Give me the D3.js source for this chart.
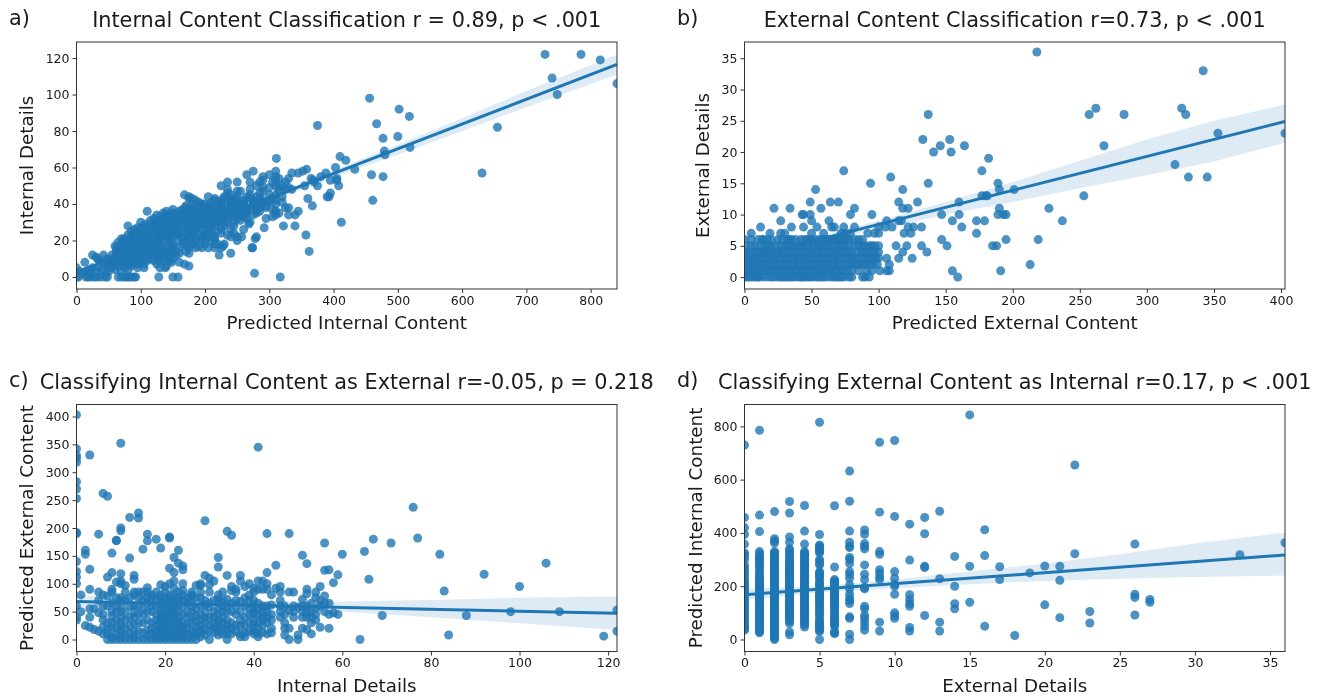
<!DOCTYPE html>
<html>
<head>
<meta charset="utf-8">
<script src="https://cdn.jsdelivr.net/npm/d3@7/dist/d3.min.js"></script>
<style>
html,body{margin:0;padding:0;background:#fff;}
text{font-family:"DejaVu Sans",sans-serif;fill:#1a1a1a;}
svg{display:block;filter:blur(0.35px);}
</style>
</head>
<body>
<svg id="chart" width="1327" height="697"></svg>
<script>
// Panel a: [Internal Details, [Predicted Internal Content ...]]
const rowsA = [
[122,[729,785]],[119,[815]],[109,[740]],[106,[841]],[100,[748]],[98,[456]],[92,[502]],[88,[518]],[84,[467]],[83,[375]],[82,[655]],
[77,[500]],[76,[477]],[71,[519]],[69,[479]],[67,[480]],[66,[410]],[65,[311]],[64,[419]],[60,[403]],[59,[358,433]],[58,[275,310,352]],
[57,[335,345,388,631]],[56,[265,300,459]],[55,[290,310,380,477]],[54,[315,330,365,405]],[53,[290,310,368,395,405]],[52,[235,250,270,285,305,325,370]],
[50,[225,280,310,320,355,375,408]],[49,[290,300,315,330]],[48,[235,270,325,335]],[47,[250,255,290,315]],[46,[235,285,395]],[45,[168,240,270,300,310]],
[44,[175,205,230,250,265,280,320,390,393]],[43,[175,180,215,230,245,270,285,305,360]],[42,[185,215,225,240,250,260,275,290,300,310,461]],[41,[190,210,225,240,260,275,290,300,320]],
[40,[180,195,200,225,240,250,260,275,290,310]],[39,[170,190,205,220,235,245,260,275,285,295,367]],[38,[170,180,190,200,210,220,240,255,270,285,295,325,330]],[37,[150,165,175,190,200,210,225,235,250,265,280,305]],
[36,[110,140,160,180,200,215,230,240,250,265,285,310,345]],[35,[135,150,160,175,185,195,205,215,225,240,255,265,280,315]],[34,[125,140,150,160,170,180,195,205,215,225,240,250,260,275,310,330,340]],
[33,[130,140,150,160,170,180,190,200,210,220,230,245,260,305]],[32,[120,135,145,155,165,175,185,200,210,220,230,250,265,295]],[31,[115,125,135,150,160,170,180,190,205,215,225,235,255]],[30,[100,120,130,145,155,160,170,180,195,205,215,225,235,245,270,412]],
[29,[108,120,135,155,175,190,210,268]],[28,[80,105,115,125,135,145,155,165,180,190,200,215,230,245,322,340]],[27,[95,115,130,150,170,185,205,225,292]],
[26,[90,100,110,120,130,140,150,160,175,185,195,205,225,240,260]],[25,[85,105,125,145,155,180,215]],[24,[90,100,115,125,130,140,150,160,170,180,190,200,210,225,245]],[23,[80,95,110,135,155,175,200,235,357]],
[22,[85,100,110,120,130,140,150,165,175,185,195,205,215,240,250,257,280]],[21,[70,75,90,105,125,145,165,195,215,278]],[20,[72,85,90,100,110,115,125,130,145,160,175,185,200,210,250]],
[19,[65,80,95,110,125,145,170,185]],[18,[70,75,85,95,100,110,120,130,135,150,165,180,200,215,220,230]],[17,[60,75,90,105,125,150,172,190,228]],[16,[62,70,80,88,95,110,120,135,150,160,175,185,195,205,215,225,273,274]],
[15,[65,70,85,100,120,145]],[14,[62,70,75,82,90,100,110,118,125,132,140,155,170,362]],[13,[68,80,95,105,115,130,140,150,160,175,240]],[12,[25,42,55,62,70,78,85,92,100,108,115,125,135,145,155,222]],
[11,[30,60,75,90,105,125,140]],[10,[33,48,58,65,72,80,88,95,102,110,118,130,140,150]],[9,[35,50,60,70,78,85,92,100,110,120,128,135,145]],[8,[13,40,55,75,90,148,160]],[7,[45,52,60,70,80,88,95,105,125,168]],
[6,[50,65,85,140,175]],[5,[0,25,35,55,75,95,105,130,138]],[4,[20,40,60,80]],[3,[5,15,30,50,70]],[2,[0,10,22,45,277]],
[0,[0,3,15,18,22,28,32,38,45,48,65,70,75,78,82,85,90,92,128,150,158,317]]
];
const lineA = [[0,2.5],[841,116.5]];
const bandA = [[0,1,4],[100,14.8,16.6],[200,28.7,30],[300,41.5,44],[400,54.5,58.5],[500,67,72.5],[600,80,87],[700,93,102],[841,111,122]];

// Panel b: [External Details, [Predicted External Content ...]]
const rowsB = [
[36,[218]],[33,[342]],[27,[262,326]],[26,[137,257,283,329]],[23,[353,403]],[22,[133,153]],[21,[146,164,268]],[20,[141,154]],[19,[182]],[18,[321]],
[17,[74,177]],[16,[109,331,345]],[15,[94,137,189]],[14,[53,118,190,201]],[13,[177,180,181,253]],[12,[49,64,70,115,129,160]],
[11,[22,34,57,82,118,122,190,227]],[10,[43,44,49,79,95,147,160,189,193,195]],[9,[27,50,63,106,115,117,155,173,179,237]],
[8,[12,35,44,54,65,67,74,82,100,105,110,122,126,132,162]],[7,[5,19,27,30,50,59,72,75,79,92,97,100,119,124,173]],
[6,[0,5,10,13,14,17,20,25,28,32,33,35,38,42,45,47,49,52,55,58,60,62,64,66,68,70,72,74,76,78,82,85,88,147,195,219]],
[5,[1,5,8,12,15,17,20,23,27,30,33,36,39,42,44,47,50,52,55,57,60,62,65,68,70,72,75,78,82,85,88,90,93,95,97,100,113,121,132,151,185,188]],
[4,[0,2,5,8,10,13,15,18,20,23,25,28,30,33,35,38,40,43,45,48,50,53,55,58,60,63,65,68,70,73,75,78,80,84,87,90,92,95,97,100,118,136]],
[3,[1,3,6,8,10,12,15,17,20,22,25,27,30,32,35,37,40,42,45,47,50,52,55,57,60,62,65,67,70,72,75,78,80,82,85,88,90,93,95,98,100,106,115,125]],
[2,[0,3,5,7,10,12,15,17,20,22,25,27,30,32,35,37,40,42,45,47,50,52,55,57,60,62,65,67,70,72,75,78,80,83,85,88,90,93,96,99,108,213]],
[1,[0,2,3,5,7,9,12,14,17,19,22,24,27,29,32,34,37,39,42,44,47,49,52,54,57,59,62,64,67,69,72,74,77,80,85,91,95,101,106,108,155,191]],
[0,[0,2,4,6,8,10,11,14,17,20,22,25,27,29,31,33,35,37,40,42,43,45,47,49,51,54,56,58,60,63,66,68,70,72,74,78,80,88,90,93,159]]
];
const lineB = [[0,3],[403,24.9]];
const bandB = [[0,2.4,3.6],[50,5.2,6.2],[100,7.6,9],[150,10,12],[200,12,15.2],[250,14.2,18.6],[300,16.3,22],[350,18.5,25],[403,21.5,27.6]];

// Panel c: [Internal Details, [Predicted External Content ...]]
const colsC = [
[0,[403,342,330,325,318,283,270,253,192,190,140,122,112,100,60,40,35]],[1,[80,50]],[2,[160,153,25]],[3,[331,126,90,55,40,22]],[4,[55,18]],
[5,[189,85,70,48,15]],[6,[262,80,60,45,35,22,10]],[7,[257,112,78,60,30,18,10,0]],[8,[155,120,90,85,65,50,42,30,20,5,0]],[9,[178,177,103,75,60,50,35,20,8,0]],
[10,[352,200,195,118,105,100,75,70,60,50,40,30,22,15,8,0]],[11,[97,85,70,50,35,20,8,0]],[12,[219,146,75,60,40,25,12,0]],[13,[115,108,85,80,60,50,40,28,15,5,0]],[14,[227,218,85,75,60,45,30,15,0]],
[15,[162,85,70,55,45,30,12,0]],[16,[189,177,93,85,75,65,50,35,17,8,0]],[17,[80,75,60,50,30,20,10,0]],[18,[180,85,70,60,45,35,25,15,10,5,0]],[19,[164,98,80,75,65,55,48,40,35,30,25,20,15,10,5,0]],
[20,[95,85,70,65,55,48,42,35,30,25,18,12,5,0]],[21,[184,182,128,100,80,75,70,60,52,45,38,30,22,15,8,0]],[22,[147,120,105,92,80,72,65,58,50,44,38,30,22,15,10,5,0]],[23,[160,137,85,75,68,60,50,40,32,25,18,12,5,0]],
[24,[132,125,100,88,80,70,60,45,30,22,15,8,5,0]],[25,[75,65,50,40,28,20,10,0]],[26,[85,80,78,68,60,50,40,30,15,8,0]],[27,[97,75,55,42,32,22,15,8,0]],[28,[100,97,85,75,60,45,35,25,18,12,5]],[29,[213,115,70,62,48,38,30,18,8]],
[30,[110,98,85,65,58,40,25,15,0]],[31,[105,70,50,40,30,22,12]],[32,[147,130,80,72,65,55,45,35,28,20,15,8]],[33,[85,70,60,50,40,30,18,10]],[34,[194,115,72,60,50,35,25,18,10,0]],[35,[187,95,88,65,50,30,20,10]],
[36,[90,85,70,60,45,25,15]],[37,[115,105,68,50,35,25,10,5]],[38,[95,75,60,40,25,12,5]],[39,[100,80,70,55,45,30,15]],[40,[92,85,70,60,50,45,35,28,20,15,10]],[41,[345,105,90,65,55,45,30,20,10,5]],
[42,[105,90,60,50,40,35,25,13]],[43,[190,120,100,90,60,50,40,30,10]],[44,[80,62,45,35,20,12]],[45,[133,92]],[46,[95,85,70,60,50,40]],[47,[60,45,30,20,8]],[48,[190,85,52,20,0]],[49,[85,60,50,40]],
[50,[58,8,0]],[51,[151,72,60,50,40,20]],[52,[136,90,82,60,50,40,18]],[53,[65,50,40,30,10]],[54,[85,75,55,45,35]],[55,[95,70,60,22]],[56,[173,124,78,65,50]],[57,[125,65,45,20]],
[58,[102,48]],[59,[116,45]],[60,[153]],[64,[0]],[65,[158]],[66,[108]],[67,[180]],[69,[43]],[71,[173]],[76,[237]],[77,[182]],[82,[153]],[83,[87]],
[84,[8]],[88,[43]],[92,[117]],[98,[50]],[100,[95]],[106,[137]],[109,[50]],[119,[6]],[122,[53,15]]
];
const lineC = [[0,68],[122,47]];
const bandC = [[0,58,80],[15,60,74],[30,59,71],[45,56,69],[60,50,68],[80,40,71],[100,29,75],[122,17,77]];

// Panel d: [External Details, [Predicted Internal Content ...]]
const colsD = [
[0,[730,458,420,395,358,325,320,310,300,280,270,260,250,240,230,220,212,205,198,190,182,175,168,160,152,145,138,130,122,115,108,100,92,85,78,70,62,55,50,45,40,35]],
[1,[785,467,405,330,322,315,310,305,300,295,288,280,275,270,258,250,242,235,230,225,220,215,210,205,200,195,190,185,180,175,170,165,160,155,150,145,140,135,130,125,120,115,110,105,100,95,90,85,80,75,70,65,60,55,50,45,40,35,30,25]],
[2,[480,378,370,362,330,326,322,318,314,310,305,300,295,290,285,280,275,270,265,260,255,250,245,240,235,230,225,220,215,210,205,200,195,190,185,180,175,170,165,160,155,150,145,140,135,130,125,120,115,110,105,100,95,90,85,80,75,70,65,60,55,50,45,40,35,30,25,20,15,10,5,0]],
[3,[518,475,385,365,340,335,325,318,310,303,295,290,285,280,275,270,265,260,255,250,245,240,235,230,225,220,215,210,205,200,195,190,185,180,175,170,165,160,155,150,145,140,135,130,125,120,115,110,105,100,95,90,85,80,75,68,60,28,18]],
[4,[503,407,358,330,325,320,315,310,305,300,295,290,285,280,275,270,265,260,255,250,245,240,235,230,225,220,215,210,205,200,195,190,185,180,175,170,165,160,155,150,145,140,135,130,125,120,115,110,105,100,95,90,85,80,75,70,65,60,55,47]],
[5,[815,394,355,350,345,340,335,330,325,300,295,285,280,255,250,245,240,235,225,215,210,205,195,190,185,175,170,165,160,155,150,145,140,135,130,125,115,110,100,95,90,80,70,65,60,55,50,45,40,35,30,0]],
[6,[502,272,225,220,215,210,205,200,195,190,185,180,175,170,165,160,155,150,145,140,135,130,125,120,115,110,100,95,85,80,75,70,65,60,55,50,30,25,22]],
[7,[632,519,407,365,350,345,308,300,285,255,245,230,205,190,170,155,145,135,85,80,20,0]],
[8,[411,395,360,350,340,280,245,225,195,190,125,115,90,80,65,50,35]],
[9,[740,478,330,320,262,250,235,225,65,32]],[10,[747,462,255,230,208,200,170,100,90,80]],[11,[433,298,168,150,135,125,45,32]],
[12,[458,397,275,270,90]],[13,[481,228,65,32]],[14,[312,200,134,115]],[15,[843,275,140]],[16,[412,315,50]],[17,[273,225]],[18,[15]],[19,[250]],
[20,[276,130]],[21,[275,222,82]],[22,[655,322]],[23,[105,62]],[26,[358,170,158,92]],[27,[150,140]],[33,[318]],[36,[363]]
];
const lineD = [[0,168],[36,317]];
const bandD = [[0,148,190],[5,176,200],[10,192,225],[15,207,255],[20,220,285],[25,228,320],[30,235,360],[36,240,402]];

const ticksA = {x:[0,100,200,300,400,500,600,700,800], y:[0,20,40,60,80,100,120]};
const ticksB = {x:[0,50,100,150,200,250,300,350,400], y:[0,5,10,15,20,25,30,35]};
const ticksC = {x:[0,20,40,60,80,100,120], y:[0,50,100,150,200,250,300,350,400]};
const ticksD = {x:[0,5,10,15,20,25,30,35], y:[0,200,400,600,800]};

const titles = ["Internal Content Classification r = 0.89, p < .001","External Content Classification r=0.73, p < .001",
"Classifying Internal Content as External r=-0.05, p = 0.218","Classifying External Content as Internal r=0.17, p < .001"];
const xLabels = ["Predicted Internal Content","Predicted External Content","Internal Details","External Details"];
const yLabels = ["Internal Details","External Details","Predicted External Content","Predicted Internal Content"];
const letters = ["a)","b)","c)","d)"];

const pointsFromRows = g => g.flatMap(([y,xs]) => xs.map(x => [x,y]));
const pointsFromCols = g => g.flatMap(([x,ys]) => ys.map(y => [x,y]));

const panels = [
 {pts:pointsFromRows(rowsA),line:lineA,band:bandA,ticks:ticksA,xd:[0,841],yd:[-6.6,128.8],l:76.5,t:42,lx:9,ty:27,ly:25,ylx:33},
 {pts:pointsFromRows(rowsB),line:lineB,band:bandB,ticks:ticksB,xd:[0,403],yd:[-1.9,37.6],l:744.5,t:42,lx:677,ty:27,ly:25,ylx:709},
 {pts:pointsFromCols(colsC),line:lineC,band:bandC,ticks:ticksC,xd:[0,122],yd:[-21.5,421.5],l:76.5,t:404.5,lx:9,ty:389,ly:387,ylx:33},
 {pts:pointsFromCols(colsD),line:lineD,band:bandD,ticks:ticksD,xd:[0,36],yd:[-45,882],l:744.5,t:404.5,lx:677,ty:389,ly:387,ylx:702}
];

const W = 540.5, H = 247, blue = "#1f77b4";
const svg = d3.select("#chart");

panels.forEach((p,i) => {
  const g = svg.append("g").attr("transform",`translate(${p.l},${p.t})`);
  const x = d3.scaleLinear().domain(p.xd).range([0,W]);
  const y = d3.scaleLinear().domain(p.yd).range([H,0]);
  const clipId = "clip"+i;
  g.append("clipPath").attr("id",clipId).append("rect").attr("width",W).attr("height",H);
  const body = g.append("g").attr("clip-path",`url(#${clipId})`);
  body.selectAll("circle").data(p.pts).join("circle")
    .attr("cx",d=>x(d[0])).attr("cy",d=>y(d[1])).attr("r",4.5)
    .attr("fill",blue).attr("fill-opacity",0.8);
  body.append("path").datum(p.band)
    .attr("d",d3.area().x(d=>x(d[0])).y0(d=>y(d[1])).y1(d=>y(d[2])))
    .attr("fill",blue).attr("fill-opacity",0.15);
  body.append("path").datum(p.line)
    .attr("d",d3.line().x(d=>x(d[0])).y(d=>y(d[1])))
    .attr("fill","none").attr("stroke",blue).attr("stroke-width",3);

  const ax = g.append("g").attr("transform",`translate(0,${H})`)
    .call(d3.axisBottom(x).tickValues(p.ticks.x).tickFormat(d3.format("d")).tickSize(4).tickPadding(3));
  const ay = g.append("g")
    .call(d3.axisLeft(y).tickValues(p.ticks.y).tickFormat(d3.format("d")).tickSize(4).tickPadding(3));
  [ax,ay].forEach(a => {
    a.selectAll("text").style("font-size","12.5px").style("font-family",'"DejaVu Sans",sans-serif').attr("fill","#1a1a1a");
    a.selectAll("line").attr("stroke","#333");
    a.select(".domain").remove();
  });
  g.append("rect").attr("width",W).attr("height",H).attr("fill","none").attr("stroke","#333").attr("stroke-width",1);

  svg.append("text").attr("x",p.l+W/2).attr("y",p.ty).attr("text-anchor","middle").style("font-size","20.8px").text(titles[i]);
  svg.append("text").attr("x",p.l+W/2).attr("y",p.t+H+40).attr("text-anchor","middle").style("font-size","18.3px").text(xLabels[i]);
  svg.append("text").attr("transform",`translate(${p.ylx},${p.t+H/2}) rotate(-90)`).attr("text-anchor","middle").style("font-size","18.3px").text(yLabels[i]);
  svg.append("text").attr("x",p.lx).attr("y",p.ly).style("font-size","20.8px").text(letters[i]);
});
</script>
</body>
</html>
